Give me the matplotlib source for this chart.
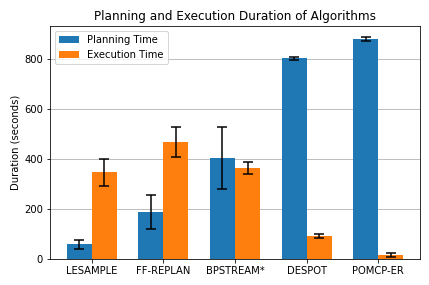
import matplotlib
matplotlib.use("Agg")
import matplotlib.pyplot as plt
import numpy as np

algorithms = ["LESAMPLE", "FF-REPLAN", "BPSTREAM*", "DESPOT", "POMCP-ER"]
planning_mean = [60, 188, 403, 803, 880]
planning_err = [18, 69, 124, 7, 8]
execution_mean = [347, 468, 364, 91, 15]
execution_err = [53, 61, 23, 8, 8]

fig, ax = plt.subplots(figsize=(429/72, 285/72), dpi=72)
x = np.arange(len(algorithms))
w = 0.35
ax.bar(x - w/2, planning_mean, w, yerr=planning_err, capsize=5,
       color="#1f77b4", label="Planning Time", error_kw=dict(ecolor="black", elinewidth=1.5, capthick=1.5))
ax.bar(x + w/2, execution_mean, w, yerr=execution_err, capsize=5,
       color="#ff7f0e", label="Execution Time", error_kw=dict(ecolor="black", elinewidth=1.5, capthick=1.5))
ax.set_xticks(x)
ax.set_xticklabels(algorithms)
ax.set_ylabel("Duration (seconds)")
ax.set_title("Planning and Execution Duration of Algorithms")
ax.set_axisbelow(True)
ax.yaxis.grid(True, color="#b0b0b0")
ax.legend(loc="upper left")
fig.subplots_adjust(left=50/429, right=420/429, bottom=1-259/285, top=1-26/285)
fig.savefig("out.png", dpi=72)
